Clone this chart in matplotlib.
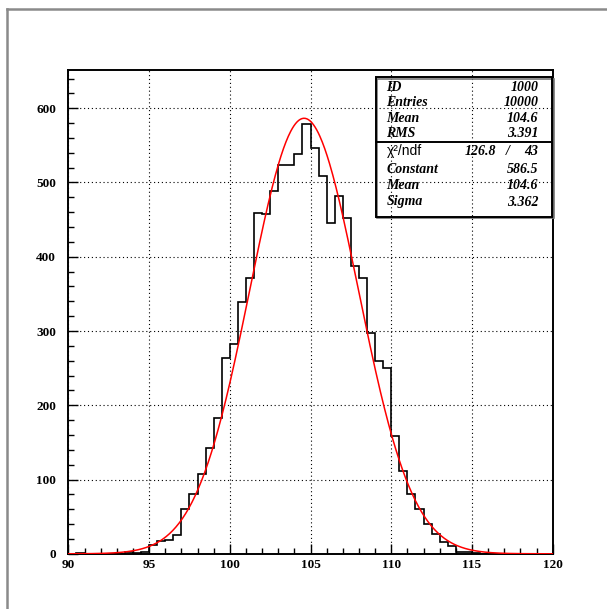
import numpy as np
import matplotlib
matplotlib.use("Agg")
import matplotlib.pyplot as plt
from matplotlib.lines import Line2D
from matplotlib.patches import Rectangle
from matplotlib.ticker import MultipleLocator

# Histogram: 60 bins of width 0.5 between 90 and 120
bin_edges = np.linspace(90.0, 120.0, 61)
counts = [
    0, 1, 0, 0, 0, 0, 0, 3, 1, 2,              # 90.0 - 95.0
    12, 17, 19, 25, 60, 80, 107, 143, 183, 264,  # 95.0 - 100.0
    282, 339, 372, 459, 458, 488, 524, 523, 539, 579,  # 100.0 - 105.0
    546, 509, 446, 482, 452, 388, 372, 298, 259, 250,  # 105.0 - 110.0
    159, 112, 80, 61, 40, 27, 16, 10, 3, 3,    # 110.0 - 115.0
    1, 0, 0, 0, 0, 0, 0, 0, 0, 0,              # 115.0 - 120.0
]

# Gaussian fit parameters
fit_constant = 586.5
fit_mean = 104.6
fit_sigma = 3.362

# Statistics box entries
stats_rows = [("ID", "1000"), ("Entries", "10000"), ("Mean", "104.6"), ("RMS", "3.391")]
fit_rows = [("Constant", "586.5"), ("Mean", "104.6"), ("Sigma", "3.362")]
chi2_value = "126.8"
ndf_value = "43"

x_major = [90, 95, 100, 105, 110, 115, 120]
y_major = [0, 100, 200, 300, 400, 500, 600]

W, H = 607, 609
fig = plt.figure(figsize=(W / 100, H / 100), dpi=100)
fig.patch.set_facecolor("white")


def fx(px):
    return px / W


def fy(py):
    return 1 - py / H


# Canvas border (top and left)
fig.add_artist(Line2D([fx(7), fx(607)], [fy(9), fy(9)], color="#8a8a8a", lw=1.8))
fig.add_artist(Line2D([fx(7), fx(7)], [fy(9), fy(609)], color="#8a8a8a", lw=1.8))

ax_l, ax_r, ax_t, ax_b = 68.4, 552.7, 70.0, 553.8
ax = fig.add_axes([fx(ax_l), fy(ax_b), (ax_r - ax_l) / W, (ax_b - ax_t) / H])
ax.set_xlim(90, 120)
ax.set_ylim(0, (ax_b - ax_t) / 0.7426)

serif_bold = dict(family="Liberation Serif", weight="bold", size=9.5)

ax.set_xticks(x_major)
ax.set_yticks(y_major)
ax.xaxis.set_minor_locator(MultipleLocator(1))
ax.yaxis.set_minor_locator(MultipleLocator(20))
ax.set_xticklabels([str(v) for v in x_major], fontdict=serif_bold)
ax.set_yticklabels([str(v) for v in y_major], fontdict=serif_bold)
ax.tick_params(axis="both", which="major", direction="in", length=7, width=1.0,
               color="black", top=False, right=False)
ax.tick_params(axis="both", which="minor", direction="in", length=4, width=1.0,
               color="black", top=False, right=False)
ax.tick_params(axis="x", which="major", pad=4)
ax.tick_params(axis="y", which="major", pad=9)

for sp in ax.spines.values():
    sp.set_linewidth(1.4)
    sp.set_color("black")

ax.grid(True, which="major", color="black", linestyle=(0, (1, 2.5)), linewidth=0.8)
ax.set_axisbelow(True)

# Histogram outline
ax.stairs(counts, bin_edges, color="black", linewidth=1.2, zorder=3)

# Gaussian fit curve
xs = np.linspace(90, 120, 600)
ys = fit_constant * np.exp(-0.5 * ((xs - fit_mean) / fit_sigma) ** 2)
ax.plot(xs, ys, color="red", linewidth=1.1, zorder=4)

# Statistics box
bx_l, bx_r, bx_t, bx_b, bx_mid = 375.5, 552.0, 77.3, 216.7, 142.3
fig.add_artist(Rectangle((fx(bx_l + 1.5), fy(bx_b + 1.5)), (bx_r - bx_l) / W,
                         (bx_b - bx_t) / H, fill=False, edgecolor="#777777",
                         linewidth=1.2, transform=fig.transFigure, zorder=5))
fig.add_artist(Rectangle((fx(bx_l), fy(bx_b)), (bx_r - bx_l) / W, (bx_b - bx_t) / H,
                         fill=False, edgecolor="black", linewidth=1.4,
                         transform=fig.transFigure, zorder=6))
fig.add_artist(Line2D([fx(bx_l), fx(bx_r)], [fy(bx_mid), fy(bx_mid)],
                      color="black", lw=1.4, zorder=6))

label_font = dict(family="Liberation Serif", weight="bold", style="italic", size=10)
lab_x, val_x = 386.5, 538.5
top_baselines = [91.0, 106.0, 122.0, 137.0]
for (lab, val), by in zip(stats_rows, top_baselines):
    fig.text(fx(lab_x), fy(by), lab, ha="left", va="baseline", zorder=7, **label_font)
    fig.text(fx(val_x), fy(by), val, ha="right", va="baseline", zorder=7, **label_font)

chi_by = 155.0
fig.text(fx(lab_x), fy(chi_by), "χ²/ndf", ha="left", va="baseline",
         family="Liberation Sans", size=10, zorder=7)
fig.text(fx(496.5), fy(chi_by), chi2_value, ha="right", va="baseline", zorder=7, **label_font)
fig.text(fx(508), fy(chi_by), "/", ha="center", va="baseline", zorder=7, **label_font)
fig.text(fx(val_x), fy(chi_by), ndf_value, ha="right", va="baseline", zorder=7, **label_font)

fit_baselines = [173.0, 189.0, 205.5]
for (lab, val), by in zip(fit_rows, fit_baselines):
    fig.text(fx(lab_x), fy(by), lab, ha="left", va="baseline", zorder=7, **label_font)
    fig.text(fx(val_x), fy(by), val, ha="right", va="baseline", zorder=7, **label_font)

fig.savefig("out.png", dpi=100)
